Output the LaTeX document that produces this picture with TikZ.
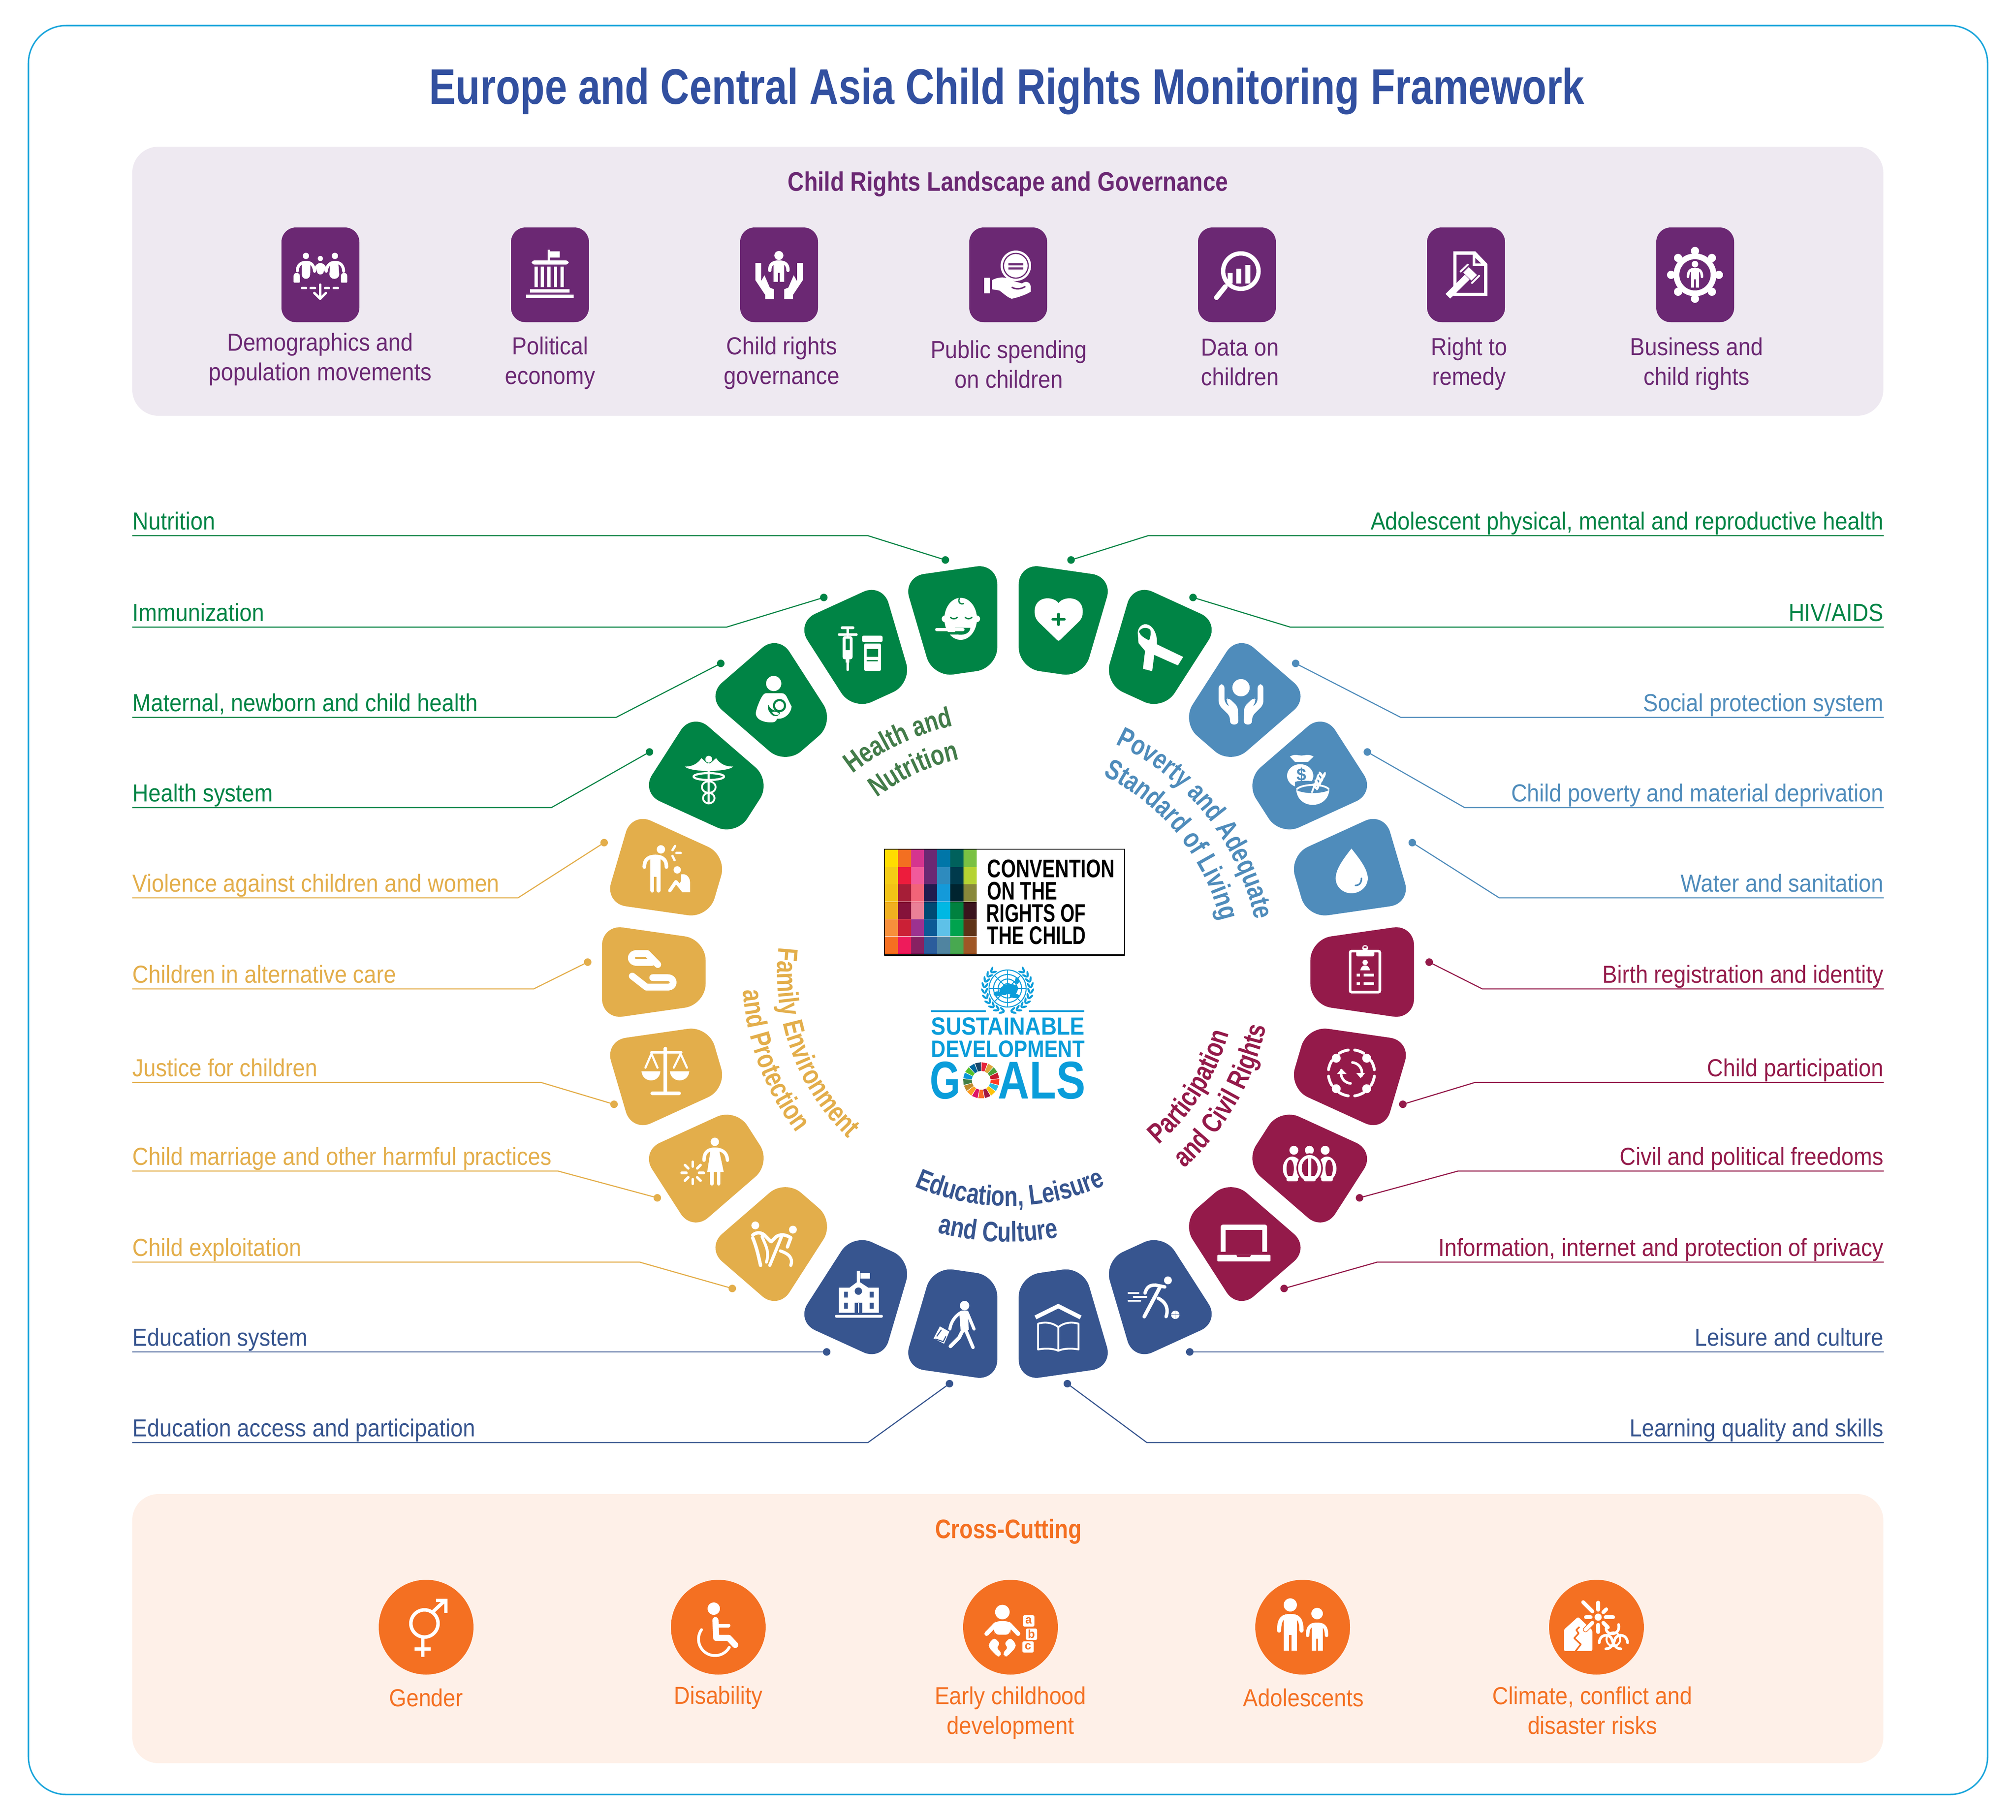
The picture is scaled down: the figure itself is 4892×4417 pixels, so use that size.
\documentclass[tikz,border=0pt]{standalone}
\usepackage{fontspec}
\usepackage{graphicx}
\usetikzlibrary{decorations.text}
\setmainfont[FakeStretch=0.9]{Liberation Sans}
\newfontfamily\arcfam[FakeStretch=0.78]{Liberation Sans}
\newfontfamily\plainfam{Liberation Sans}
\newcommand\arcf{\arcfam\bfseries\fontsize{19.5}{21}\selectfont}
\definecolor{grn}{HTML}{008445}
\definecolor{grnd}{HTML}{437C4A}
\definecolor{blu}{HTML}{4F8CBB}
\definecolor{mar}{HTML}{941A4A}
\definecolor{nav}{HTML}{37558F}
\definecolor{yel}{HTML}{E3AE4B}
\definecolor{pur}{HTML}{6B2873}
\definecolor{org}{HTML}{F47022}
\definecolor{lil}{HTML}{EEE9F1}
\definecolor{pea}{HTML}{FEF0E8}
\definecolor{ttl}{HTML}{3250A0}
\definecolor{frm}{HTML}{1AA5DB}
\definecolor{sdg}{HTML}{0A9DDA}
\tikzset{
 ws/.style={draw=white,line cap=round,line join=round,line width=#1*0.181pt},
 ts/.style={draw=white,line cap=round,line join=round,line width=#1*0.0945pt},
 pxs/.style={draw=white,line cap=round,line join=round,line width=#1*0.2835pt},
 lab/.style={font=\fontsize{17}{20.6}\selectfont,inner sep=0pt,align=center},
 dotn/.style={circle,inner sep=0pt,minimum size=5.2pt,fill=#1},
 leadln/.style={draw=#1,line width=0.75pt},
 cropa/.style={shift={(1450,1350)},scale=0.638},
 cropb/.style={shift={(2450,1350)},scale=0.638},
 cropc/.style={shift={(1450,2350)},scale=0.638},
 cropd/.style={shift={(2450,2350)},scale=0.638},
 ptile/.style={fill=pur,rounded corners=10pt},
 ocirc/.style={fill=org},
}
% leader: name, colour, text, line y, bend x, dot x, dot y
\newcommand\leadL[7]{%
 \coordinate (#1s) at (321,#4);
 \coordinate (#1b) at (#5,#4);
 \node[dotn=#2] (#1d) at (#6,#7) {};
 \node[lab,text=#2,anchor=base west] (#1t) at (321,{#4-15}) {#3};
 \draw[leadln=#2] (#1s) -- (#1b) -- (#1d.center);
}
\newcommand\leadR[7]{%
 \coordinate (#1s) at (4571,#4);
 \coordinate (#1b) at (#5,#4);
 \node[dotn=#2] (#1d) at (#6,#7) {};
 \node[lab,text=#2,anchor=base east] (#1t) at (4571,{#4-15}) {#3};
 \draw[leadln=#2] (#1s) -- (#1b) -- (#1d.center);
}
% person: cx, head y, head r, shoulder y, half width, foot y
\newcommand\psn[6]{%
 \fill[white] (#1,#2) circle (#3);
 \draw[white,line cap=round,line width=#5*0.09pt] ({#1-#5*0.85},{#4+(#6-#4)*0.42}) .. controls ({#1-#5*0.85},{#4+4}) and ({#1-#5*0.5},#4) .. (#1,#4) .. controls ({#1+#5*0.5},#4) and ({#1+#5*0.85},{#4+4}) .. ({#1+#5*0.85},{#4+(#6-#4)*0.42});
 \fill[white] ({#1-#5*0.5},#4) rectangle ({#1+#5*0.5},{#4+(#6-#4)*0.55});
 \fill[white] ({#1-#5*0.5},{#4+(#6-#4)*0.5}) rectangle ({#1-#5*0.08},#6);
 \fill[white] ({#1+#5*0.08},{#4+(#6-#4)*0.5}) rectangle ({#1+#5*0.5},#6);
}
% curved heading: colour, text, centre angle, radius, half span (signed)
\newcommand\arctxt[5]{%
 \path[decorate,decoration={text along path,text align=center,text={|\color{#1}\arcf|#2}}]
   plot[domain={#3-(#5)}:{#3+(#5)},samples=90] ({2446+#4*sin(\x)},{2359-#4*cos(\x)});
}
\begin{document}
\begin{tikzpicture}[x=0.01cm,y=-0.01cm]
\useasboundingbox (0,0) rectangle (4892,4417);
\fill[white] (0,0) rectangle (4892,4417);
\draw[frm,line width=1pt,rounded corners=26pt] (69,62) rectangle (4823,4355);
\node[inner sep=0pt,text=ttl] (title) at (2443,221) {\resizebox{28.02cm}{\height}{\bfseries\fontsize{34.5}{40}\selectfont Europe and Central Asia Child Rights Monitoring Framework}};
% panels
\fill[lil,rounded corners=18pt] (321,356) rectangle (4570,1009);
\fill[pea,rounded corners=18pt] (321,3626) rectangle (4570,4279);
\node[inner sep=0pt,text=pur] (h1) at (2446,447) {\resizebox{10.68cm}{\height}{\bfseries\fontsize{18.5}{22}\selectfont Child Rights Landscape and Governance}};
\node[inner sep=0pt,text=org] (h2) at (2447,3717) {\resizebox{3.55cm}{\height}{\bfseries\fontsize{18.5}{22}\selectfont Cross-Cutting}};
% top tiles
\foreach \cx in {777,1334,1890,2446,3001,3557,4113}
 \fill[ptile] ({\cx-94},552) rectangle ({\cx+95},782);
\node[lab,text=pur] (p1) at (777,872) {Demographics and\\population movements};
\node[lab,text=pur] (p2) at (1335,881) {Political\\economy};
\node[lab,text=pur] (p3) at (1897,881) {Child rights\\governance};
\node[lab,text=pur] (p4) at (2448,884) {Public spending\\on children};
\node[lab,text=pur] (p5) at (3009,879) {Data on\\children};
\node[lab,text=pur] (p6) at (3565,883) {Right to\\remedy};
\node[lab,text=pur] (p7) at (4117,883) {Business and\\child rights};
% top icon 1
\begin{scope}[shift={(660,550)},scale=0.3333]
 \fill[white] (247,213) circle (23) (458,213) circle (23) (352,232) circle (19);
 \draw[ts=22] (185,322) .. controls (185,272) and (220,260) .. (250,260) .. controls (285,260) and (305,280) .. (310,325);
 \fill[white] (217,262) -- (280,262) -- (278,350) .. controls (275,390) and (220,390) .. (217,350) -- cycle;
 \draw[ts=22] (395,325) .. controls (400,275) and (430,260) .. (460,260) .. controls (500,260) and (520,285) .. (522,325);
 \fill[white] (425,262) -- (482,262) -- (490,345) .. controls (490,392) and (418,392) .. (418,345) -- cycle;
 \draw[ts=20] (312,322) .. controls (320,285) and (340,275) .. (352,275) .. controls (365,275) and (385,285) .. (392,322);
 \fill[white] (326,280) -- (378,280) -- (378,320) .. controls (378,358) and (326,358) .. (326,320) -- cycle;
 \fill[white,rounded corners=0.6pt] (157,408) -- (157,365) .. controls (157,330) and (203,330) .. (203,365) -- (203,408) -- cycle;
 \fill[white,rounded corners=0.6pt] (502,408) -- (502,365) .. controls (502,330) and (548,330) .. (548,365) -- (548,408) -- cycle;
 \draw[ts=18] (218,448) -- (248,448) (282,448) -- (313,448) (386,448) -- (415,448) (450,448) -- (480,448);
 \draw[ts=16] (351,422) -- (351,525);
 \draw[ts=18] (308,483) -- (351,525) -- (393,483);
\end{scope}
% top icon 2
\fill[white] (1329,606) rectangle (1334,634) (1334,610) rectangle (1358,625);
\fill[white,rounded corners=2pt] (1290,632) rectangle (1380,642);
\foreach \xx in {1301,1316,1332,1348,1364} \fill[white] ({\xx-4},647) rectangle ({\xx+4},697);
\fill[white] (1286,702) rectangle (1382,710) (1276,715) rectangle (1392,723);
% top icon 3
\psn{1890}{620}{11}{636}{26}{684}
\fill[white] (1833,638)--(1847,638)--(1847,682)--(1855,668)--(1868,698)--(1878,702)--(1878,726)--(1857,726)--(1857,716)--(1833,680)--cycle;
\fill[white] (1948,638)--(1934,638)--(1934,682)--(1926,668)--(1913,698)--(1903,702)--(1903,726)--(1924,726)--(1924,716)--(1948,680)--cycle;
% top icon 4
\fill[white] (2465,645) circle (37);
\draw[pur,line width=0.8pt] (2465,645) circle (30);
\fill[pur] (2447,639) rectangle (2483,644) (2447,649) rectangle (2483,654);
\fill[white] (2388,674) rectangle (2402,712);
\fill[white] (2407,680) .. controls (2425,670) and (2445,672) .. (2460,682) -- (2480,688) .. controls (2490,680) and (2500,685) .. (2501,695) -- (2501,708) .. controls (2490,715) and (2470,722) .. (2455,725) .. controls (2445,722) and (2435,712) .. (2425,705) -- (2407,702) -- cycle;
\draw[pur,line width=1pt] (2455,697) .. controls (2465,703) and (2478,702) .. (2488,695);
% top icon 5
\draw[white,line width=3pt] (3011,658) circle (43);
\fill[white] (2979,662) rectangle (2991,688) (3000,652) rectangle (3012,688) (3022,643) rectangle (3034,688);
\draw[pxs=12] (2973,696) -- (2952,722);
% top icon 6
\begin{scope}[shift={(3440,550)},scale=0.3333]
 \fill[white] (260,180) -- (420,180) -- (508,272) -- (508,505) -- (260,505) -- cycle;
 \fill[pur] (283,205) -- (401,205) -- (401,287) -- (483,287) -- (483,482) -- (283,482) -- cycle;
 \fill[pur] (420,228) -- (420,268) -- (462,268) -- cycle;
 \fill[white] (203,490) -- (237,524) -- (378,385) -- (344,350) -- cycle;
 \fill[white] (332,335) -- (372,295) -- (432,352) -- (392,392) -- cycle;
 \draw[ts=14] (313,327) -- (365,277);
 \draw[ts=14] (396,410) -- (448,358);
\end{scope}
% top icon 7
\foreach \aa in {0,45,...,315} \fill[white] ({4113+58*cos(\aa)},{667+58*sin(\aa)}) circle (10);
\draw[white,line width=4pt] (4113,667) circle (45);
\psn{4113}{641}{8}{653}{20}{698}
% centre: CRC logo
\fill[white] (2146,2061) rectangle (2729,2318);
\foreach \rr/\rowlist in {
 0/{FFDD00,F36F21,D5348F,6B2873,0076A8,00615C,7AC143},
 1/{F4CC15,ED1C3C,F15A9B,6B2873,2E8BBE,003A4C,B5D333},
 2/{F2C316,A61E37,F26478,211C4F,149AD9,00242F,88883A},
 3/{F0B020,85123A,EA8097,004A73,00B8E3,00813F,3A141D},
 4/{F78F3B,CB2036,9C3290,0B5A96,5EC1E8,00A34E,5E3317},
 5/{F56F21,EE1B5B,872162,2B5D9C,5084A0,48A850,9F5726}}{
 \foreach \cc [count=\ii from 0] in \rowlist {
  \definecolor{tmpc}{HTML}{\cc}
  \fill[tmpc] ({2147+31.8*\ii},{2062+42.2*\rr}) rectangle ({2147+31.8*(\ii+1)},{2062+42.2*(\rr+1)-0.6});
 }
}
\draw[black,line width=0.6pt] (2146,2061) rectangle (2729,2318);
\draw[black,line width=1.1pt] (2146,2318) -- (2729,2318);
\node[inner sep=0pt,anchor=west] (crc1) at (2395,2108) {\resizebox{3.09cm}{0.43cm}{\plainfam\bfseries CONVENTION}};
\node[inner sep=0pt,anchor=west] (crc2) at (2395,2162) {\resizebox{1.70cm}{0.43cm}{\plainfam\bfseries ON THE}};
\node[inner sep=0pt,anchor=west] (crc3) at (2393,2216) {\resizebox{2.41cm}{0.43cm}{\plainfam\bfseries RIGHTS OF}};
\node[inner sep=0pt,anchor=west] (crc4) at (2395,2270) {\resizebox{2.39cm}{0.43cm}{\plainfam\bfseries THE CHILD}};
% UN emblem
\begin{scope}[sdg]
\foreach \rd in {45,34,23,12} \draw[line width=0.7pt] (2445,2399) circle (\rd);
\foreach \aa in {0,45,...,315} \draw[line width=0.6pt] (2445,2399) -- ({2445+45*cos(\aa)},{2399+45*sin(\aa)});
\fill (2425,2402) .. controls (2435,2385) and (2460,2385) .. (2470,2395) .. controls (2472,2412) and (2455,2420) .. (2445,2410) .. controls (2440,2420) and (2425,2415) .. (2425,2402) -- cycle;
\fill (2420,2412) ellipse (9 and 6) (2462,2417) ellipse (12 and 5) (2468,2380) ellipse (5 and 8);
\foreach \aa in {14,28,...,140} {
 \fill[rotate around={\aa+28:({2445+52*sin(\aa)},{2399+52*cos(\aa)})}] ({2445+52*sin(\aa)},{2399+52*cos(\aa)}) ellipse (7.5 and 2.6);
 \fill[rotate around={-\aa-28:({2445-52*sin(\aa)},{2399+52*cos(\aa)})}] ({2445-52*sin(\aa)},{2399+52*cos(\aa)}) ellipse (7.5 and 2.6);
 \fill[rotate around={\aa-28:({2445+60*sin(\aa)},{2399+60*cos(\aa)})}] ({2445+60*sin(\aa)},{2399+60*cos(\aa)}) ellipse (7.5 and 2.6);
 \fill[rotate around={-\aa+28:({2445-60*sin(\aa)},{2399+60*cos(\aa)})}] ({2445-60*sin(\aa)},{2399+60*cos(\aa)}) ellipse (7.5 and 2.6);
}
\fill (2259,2452) rectangle (2392,2456) (2497,2452) rectangle (2631,2456);
\end{scope}
\node[inner sep=0pt,text=sdg,anchor=west] (sd1) at (2259,2491) {\resizebox{3.72cm}{0.42cm}{\plainfam\bfseries SUSTAINABLE}};
\node[inner sep=0pt,text=sdg,anchor=west] (sd2) at (2259,2546) {\resizebox{3.72cm}{0.40cm}{\plainfam\bfseries DEVELOPMENT}};
\node[inner sep=0pt,text=sdg,anchor=west] (sd3) at (2256,2622) {\resizebox{0.74cm}{0.90cm}{\plainfam\bfseries G}};
\node[inner sep=0pt,text=sdg,anchor=west] (sd4) at (2421,2622) {\resizebox{2.12cm}{0.90cm}{\plainfam\bfseries ALS}};
\foreach \cc [count=\ii from 0] in {E5243B,DDA63A,4C9F38,C5192D,FF3A21,26BDE2,FCC30B,A21942,FD6925,DD1367,FD9D24,BF8B2E,3F7E44,0A97D9,56C02B,00689D,19486A}{
 \definecolor{tmpc}{HTML}{\cc}
 \pgfmathsetmacro\aA{\ii*21.176+1.3}
 \pgfmathsetmacro\aB{(\ii+1)*21.176-1.3}
 \fill[tmpc] ({2381+44*sin(\aA)},{2622-44*cos(\aA)}) -- ({2381+44*sin(\aB)},{2622-44*cos(\aB)}) -- ({2381+23*sin(\aB)},{2622-23*cos(\aB)}) -- ({2381+23*sin(\aA)},{2622-23*cos(\aA)}) -- cycle;
}
% ring tiles
\foreach \kk/\tc in {0/grn,1/grn,2/blu,3/blu,4/blu,5/mar,6/mar,7/mar,8/mar,9/nav,10/nav,11/nav,12/nav,13/yel,14/yel,15/yel,16/yel,17/yel,18/grn,19/grn,20/grn,21/grn}{
 \pgfmathsetmacro\th{8.1818+16.3636*\kk}
 \fill[\tc,rounded corners=14.5pt]
  ({2446+992*sin(\th-6.68)},{2359-992*cos(\th-6.68)}) --
  ({2446+992*sin(\th+6.68)},{2359-992*cos(\th+6.68)}) --
  ({2446+738*sin(\th+6.17)},{2359-738*cos(\th+6.17)}) --
  ({2446+738*sin(\th-6.17)},{2359-738*cos(\th-6.17)}) -- cycle;
}
% curved headings
\arctxt{grnd}{Health and}{-25.3}{612}{60}
\arctxt{grnd}{Nutrition}{-24.9}{530}{60}
\arctxt{blu}{Poverty and Adequate}{51.6}{612}{70}
\arctxt{blu}{Standard of Living}{51.2}{530}{70}
\arctxt{mar}{Participation}{122.2}{556}{-55}
\arctxt{mar}{and Civil Rights}{120}{640}{-55}
\arctxt{nav}{Education, Leisure}{179.5}{568}{-60}
\arctxt{nav}{and Culture}{182.2}{655}{-50}
\arctxt{yel}{Family Environment}{250}{560}{-65}
\arctxt{yel}{and Protection}{249.4}{645}{-55}
% leaders left
\leadL{a}{grn}{Nutrition}{1300}{2106}{2294}{1359}
\leadL{b}{grn}{Immunization}{1522}{1763}{1999}{1450}
\leadL{c}{grn}{Maternal, newborn and child health}{1741}{1495}{1749}{1610}
\leadL{d}{grn}{Health system}{1960}{1338}{1576}{1825}
\leadL{e}{yel}{Violence against children and women}{2179}{1257}{1466}{2045}
\leadL{f}{yel}{Children in alternative care}{2400}{1295}{1426}{2335}
\leadL{g}{yel}{Justice for children}{2627}{1313}{1490}{2680}
\leadL{h}{yel}{Child marriage and other harmful practices}{2842}{1354}{1595}{2907}
\leadL{i}{yel}{Child exploitation}{3063}{1552}{1777}{3127}
\leadL{j}{nav}{Education system}{3281}{2006}{2006}{3281}
\leadL{k}{nav}{Education access and participation}{3501}{2106}{2304}{3358}
% leaders right
\leadR{l}{grn}{Adolescent physical, mental and reproductive health}{1300}{2786}{2599}{1359}
\leadR{m}{grn}{HIV/AIDS}{1522}{3131}{2895}{1450}
\leadR{n}{blu}{Social protection system}{1741}{3399}{3144}{1610}
\leadR{o}{blu}{Child poverty and material deprivation}{1960}{3554}{3318}{1825}
\leadR{p}{blu}{Water and sanitation}{2179}{3638}{3427}{2045}
\leadR{q}{mar}{Birth registration and identity}{2400}{3597}{3468}{2335}
\leadR{r}{mar}{Child participation}{2627}{3579}{3404}{2680}
\leadR{s}{mar}{Civil and political freedoms}{2842}{3538}{3299}{2907}
\leadR{u}{mar}{Information, internet and protection of privacy}{3063}{3342}{3116}{3127}
\leadR{v}{nav}{Leisure and culture}{3281}{2887}{2887}{3281}
\leadR{w}{nav}{Learning quality and skills}{3501}{2783}{2590}{3358}
% icons: crop A
\begin{scope}[cropa]
 % baby
 \fill[white] (1381,238) ellipse (62 and 80);
 \fill[white] (1322,238) circle (13) (1442,238) circle (13);
 \draw[grn,line width=0.9pt,line cap=round] (1342,232) .. controls (1348,240) and (1362,240) .. (1368,232);
 \draw[grn,line width=0.9pt,line cap=round] (1398,232) .. controls (1404,240) and (1418,240) .. (1424,232);
 \draw[grn,line width=0.9pt,line cap=round] (1376,160) .. controls (1370,175) and (1380,185) .. (1392,180);
 \fill[grn] (1270,262) rectangle (1322,300);
 \fill[grn] (1360,272) -- (1418,272) .. controls (1415,300) and (1380,302) .. (1360,295) -- cycle;
 \fill[grn] (1322,288) rectangle (1368,298);
 \draw[ws=12] (1290,279) -- (1390,279);
 % syringe
 \draw[ws=10] (930,272) -- (972,272);
 \draw[ws=9] (951,272) -- (951,300);
 \draw[ws=9] (918,298) -- (985,298);
 \fill[white,rounded corners=1.5pt] (932,304) rectangle (970,392);
 \fill[grn] (944,314) rectangle (959,358);
 \draw[white,line width=2.6pt] (951,390) -- (951,404);
 \draw[ws=9] (951,404) -- (951,432);
 % bottle
 \fill[white,rounded corners=1pt] (1006,302) rectangle (1084,326);
 \fill[white,rounded corners=1pt] (1014,332) rectangle (1078,436);
 \fill[grn] (1024,352) rectangle (1068,382);
 \fill[grn] (1024,395) rectangle (1066,400);
 % mother
 \fill[white] (670,484) circle (29);
 \fill[white] (640,521) -- (700,521) .. controls (712,521) and (718,530) .. (722,540) -- (738,572) .. controls (735,600) and (710,618) .. (690,618) -- (682,618) .. controls (680,630) and (670,632) .. (660,632) .. controls (630,632) and (600,620) .. (602,595) .. controls (605,575) and (620,540) .. (628,530) .. controls (632,524) and (636,521) .. (640,521) -- cycle;
 \fill[grn] (692,568) circle (25);
 \fill[white] (692,568) circle (17);
 \fill[grn] (650,565) .. controls (660,590) and (680,585) .. (695,595) .. controls (690,610) and (670,612) .. (660,600) .. controls (650,590) and (645,575) .. (650,565) -- cycle;
 \fill[white] (664,592) .. controls (675,590) and (685,592) .. (692,600) .. controls (685,606) and (670,606) .. (664,592) -- cycle;
 % caduceus
 \draw[ws=8] (423,790) -- (423,940);
 \fill[white] (423,772) circle (13);
 \fill[white] (423,790) .. controls (410,785) and (405,775) .. (395,768) .. controls (380,790) and (360,800) .. (332,800) .. controls (345,812) and (380,815) .. (423,818) -- cycle;
 \fill[white] (423,790) .. controls (436,785) and (441,775) .. (451,768) .. controls (466,790) and (486,800) .. (516,800) .. controls (503,812) and (466,815) .. (423,818) -- cycle;
 \draw[ws=8] (423,838) ellipse (58 and 13);
 \draw[ws=7] (423,878) ellipse (26 and 22);
 \draw[ws=7] (423,920) ellipse (22 and 20);
 % violence
 \fill[white] (241,1115) circle (16);
 \draw[ws=14] (178,1182) .. controls (178,1148) and (200,1142) .. (220,1142) .. controls (240,1142) and (262,1148) .. (262,1182);
 \fill[white] (200,1140) rectangle (240,1220);
 \draw[ws=15] (208,1215) -- (208,1272);
 \draw[ws=15] (232,1215) -- (232,1272);
 \draw[ws=9] (295,1102) -- (285,1118);
 \draw[ws=9] (300,1129) -- (316,1129);
 \draw[ws=9] (285,1140) -- (293,1156);
 \fill[white] (303,1193) circle (14);
 \draw[ws=13] (275,1272) -- (298,1238) -- (325,1270);
 \fill[white] (318,1210) .. controls (340,1205) and (352,1225) .. (352,1240) -- (352,1278) -- (322,1278) -- (305,1255) -- (318,1235) -- cycle;
 % link
 \draw[ws=26,fill=none] (229,1553) -- (188,1511) -- (150,1511) .. controls (121,1511) and (121,1545) .. (150,1545) -- (206,1545);
 \draw[ws=26,fill=none] (132,1597) -- (186,1639) -- (266,1639) .. controls (295,1639) and (295,1603) .. (266,1603) -- (210,1603);
\end{scope}
% icons: crop B
\begin{scope}[cropb]
 % heart
 \fill[white] (186,178) .. controls (165,150) and (95,150) .. (95,210) .. controls (95,235) and (105,245) .. (115,255) -- (180,318) .. controls (184,322) and (188,322) .. (192,318) -- (262,250) .. controls (272,240) and (278,230) .. (278,210) .. controls (278,150) and (205,150) .. (186,178) -- cycle;
 \draw[grn,line width=1.9pt,line cap=round] (186,220) -- (186,260) (164,240) -- (208,240);
 % ribbon
 \fill[white] (487,290) .. controls (490,262) and (515,250) .. (535,265) .. controls (555,280) and (562,310) .. (560,335) -- (660,383) -- (640,415) -- (612,403) -- (550,375) -- (542,437) -- (507,428) -- (515,360) -- (490,330) -- cycle;
 \fill[grn] (492,285) .. controls (505,268) and (525,270) .. (535,280) .. controls (538,295) and (535,310) .. (530,320) .. controls (515,312) and (495,302) .. (492,285) -- cycle;
 % hands
 \fill[white] (880,500) circle (33);
 \foreach \mm in {0,1}{
 \begin{scope}[shift={(1760*\mm,0)},xscale={1-2*\mm}]
 \fill[white,rounded corners=2.5pt] (795,487)--(817,487)--(817,556)--(838,575)--(822,548)--(831,537)--(868,572)--(870,640)--(838,640)--(838,608)--(795,565)--cycle;
 \end{scope}}
 % bag and bowl
 \fill[white] (1105,835) ellipse (50 and 44);
 \fill[white] (1066,762) .. controls (1085,750) and (1095,758) .. (1110,758) .. controls (1125,758) and (1135,750) .. (1156,762) -- (1135,782) -- (1085,782) -- cycle;
 \node[inner sep=0pt,text=blu] (dollar) at (1110,832) {\plainfam\bfseries\fontsize{12}{12}\selectfont\$};
 \fill[blu] (1085,860) .. controls (1085,850) and (1220,850) .. (1225,885) -- (1225,960) -- (1085,960) -- cycle;
 \fill[white] (1090,888) .. controls (1095,965) and (1210,965) .. (1216,888) .. controls (1195,905) and (1110,905) .. (1090,888) -- cycle;
 \draw[ws=7] (1093,885) .. controls (1115,865) and (1195,865) .. (1213,885);
 \draw[ws=7] (1150,897) -- (1175,830);
 \foreach \yy/\xx in {0/0,1/1,2/2,3/3}{
  \fill[white,rotate around={-55:({1160+8*\xx},{875-15*\yy})}] ({1160+8*\xx},{875-15*\yy}) ellipse (13 and 5);
  \fill[white,rotate around={-110:({1172+8*\xx},{878-15*\yy})}] ({1172+8*\xx},{878-15*\yy}) ellipse (13 and 5);
 }
 % drop
 \fill[white] (1300,1112) .. controls (1270,1150) and (1240,1190) .. (1240,1225) .. controls (1240,1258) and (1268,1282) .. (1300,1282) .. controls (1332,1282) and (1362,1258) .. (1362,1225) .. controls (1362,1190) and (1330,1150) .. (1300,1112) -- cycle;
 \draw[blu,line width=1.1pt,line cap=round] (1315,1252) .. controls (1330,1252) and (1338,1242) .. (1338,1225);
 % clipboard
 \draw[white,line width=1.8pt,rounded corners=1pt] (1295,1502) rectangle (1408,1658);
 \fill[white] (1352,1490) circle (11);
 \fill[white,rounded corners=1pt] (1318,1497) rectangle (1387,1522);
 \fill[mar] (1346,1484) rectangle (1358,1491);
 \fill[white] (1352,1545) circle (10);
 \fill[white] (1334,1575) .. controls (1336,1550) and (1368,1550) .. (1370,1575) -- cycle;
 \draw[white,line width=1.8pt] (1320,1593) -- (1333,1593) (1346,1593) -- (1386,1593) (1320,1625) -- (1333,1625) (1346,1625) -- (1386,1625);
\end{scope}
% icons: crop C
\begin{scope}[cropc]
 % scales
 \draw[ws=10] (205,320) -- (318,320);
 \draw[ws=13] (258,305) -- (258,472);
 \draw[ws=14] (208,475) -- (310,475);
 \draw[ws=8] (182,378) -- (205,325) -- (228,378);
 \draw[ws=8] (290,378) -- (316,325) -- (340,378);
 \fill[white] (167,392) .. controls (172,438) and (235,438) .. (239,392) -- cycle;
 \fill[white] (275,392) .. controls (280,438) and (344,438) .. (349,392) -- cycle;
 % woman and burst
 \fill[white] (446,660) circle (16);
 \draw[ws=13] (405,730) .. controls (405,695) and (425,688) .. (446,688) .. controls (467,688) and (492,695) .. (494,730);
 \fill[white] (430,690) -- (462,690) -- (480,775) -- (417,775) -- cycle;
 \draw[ws=13] (435,775) -- (435,820);
 \draw[ws=13] (461,775) -- (461,820);
 \foreach \aa in {0,45,...,315}
  \draw[ws=10] ({362+24*cos(\aa)},{778+24*sin(\aa)}) -- ({362+42*cos(\aa)},{778+42*sin(\aa)});
 % exploitation
 \fill[white] (600,978) circle (15) (743,994) circle (15);
 \draw[ws=13] (590,1015) .. controls (605,1002) and (625,1003) .. (640,1020) -- (660,1040) -- (678,1022) .. controls (695,1010) and (715,1012) .. (735,1025) -- (722,1060);
 \draw[ws=13] (590,1025) .. controls (605,1060) and (612,1095) .. (620,1130);
 \draw[ws=11] (625,1020) .. controls (640,1055) and (655,1080) .. (642,1118);
 \draw[ws=12] (700,1020) -- (655,1130);
 \draw[ws=12] (695,1075) .. controls (725,1085) and (745,1100) .. (735,1130);
 % school
 \draw[white,line width=2.1pt] (992,1150) -- (992,1198);
 \fill[white] (1000,1158) rectangle (1036,1180);
 \fill[white] (918,1215) -- (958,1215) -- (992,1190) -- (1030,1215) -- (1070,1215) -- (1070,1310) -- (918,1310) -- cycle;
 \fill[nav] (992,1228) circle (14);
 \fill[nav] (938,1230) rectangle (952,1252) (1035,1230) rectangle (1050,1252) (938,1272) rectangle (952,1295) (1035,1272) rectangle (1050,1295) (978,1272) rectangle (1007,1310);
 \fill[white] (990,1272) rectangle (995,1310);
 \draw[ws=11] (908,1323) -- (1080,1323);
 % walker
 \fill[white] (1396,1283) circle (18);
 \draw[ws=12] (1340,1372) .. controls (1345,1340) and (1365,1318) .. (1385,1308) -- (1405,1308) -- (1432,1372);
 \fill[white] (1376,1312) -- (1408,1310) -- (1412,1375) -- (1382,1392) -- cycle;
 \draw[ws=14] (1385,1385) -- (1375,1405) -- (1342,1438);
 \draw[ws=13] (1402,1380) -- (1428,1442);
 \fill[white] (1278,1408) -- (1302,1362) -- (1338,1382) -- (1318,1428) -- cycle;
 \draw[nav,line width=0.7pt] (1290,1400) -- (1308,1375) (1285,1410) -- (1315,1420) -- (1325,1400);
\end{scope}
% icons: crop D
\begin{scope}[cropd]
 % book
 \draw[white,line width=2.9pt] (98,1328) -- (185,1285) -- (270,1328);
 \draw[white,line width=1.3pt,line join=round] (185,1365) .. controls (160,1345) and (130,1345) .. (108,1352) -- (108,1450) .. controls (130,1445) and (165,1445) .. (185,1455) .. controls (205,1445) and (240,1445) .. (262,1450) -- (262,1352) .. controls (240,1345) and (210,1345) .. (185,1365) -- cycle (185,1365) -- (185,1455);
 % leisure
 \fill[white] (602,1187) circle (15);
 \draw[ws=13] (515,1235) .. controls (522,1210) and (535,1205) .. (555,1205) -- (590,1212);
 \draw[ws=14] (572,1212) -- (512,1325);
 \draw[ws=13] (565,1255) .. controls (595,1270) and (605,1295) .. (595,1325);
 \draw[ws=7] (452,1235) -- (490,1235) (472,1250) -- (520,1250) (452,1265) -- (497,1265);
 \fill[white] (630,1318) circle (16);
 \draw[nav,line width=0.3pt] (630,1302) -- (630,1334) (614,1318) -- (646,1318);
 % laptop
 \draw[white,line width=3.6pt,line join=round] (812,1078) -- (812,985) -- (970,985) -- (970,1078);
 \fill[white,rounded corners=0.6pt] (790,1090) rectangle (992,1115);
 \fill[mar] (862,1090) -- (918,1090) -- (914,1098) -- (866,1098) -- cycle;
 % group
 \fill[white] (1081,692) circle (17) (1140,692) circle (17) (1200,692) circle (17);
 \foreach \xx/\dd in {1075/1,1207/-1}{
  \fill[white] (\xx,762) ellipse (36 and 46);
  \fill[mar] ({\xx-8*\dd},762) ellipse (14 and 34);
  \fill[white,rounded corners=1pt] ({\xx-22},790) rectangle ({\xx+22},810);
 }
 \fill[mar] (1141,760) ellipse (50 and 56);
 \fill[white] (1141,760) ellipse (44 and 50);
 \fill[mar] (1141,760) ellipse (30 and 38);
 \fill[white] (1134,722) rectangle (1148,800);
 \fill[white,rounded corners=1pt] (1118,790) rectangle (1164,810);
 % participation
 \fill[white] (1242,342) circle (17) (1358,342) circle (17) (1242,458) circle (17) (1358,458) circle (17);
 \foreach \qq in {0,90,180,270}{
  \draw[ws=11] plot[domain={238+\qq}:{262+\qq},samples=7] ({1300+88*cos(\x)},{398+88*sin(\x)});
  \draw[ws=11] plot[domain={278+\qq}:{302+\qq},samples=7] ({1300+88*cos(\x)},{398+88*sin(\x)});
 }
 \draw[ws=10] plot[domain=-85:15,samples=12] ({1300+40*cos(\x)},{398+40*sin(\x)});
 \draw[ws=10] plot[domain=95:195,samples=12] ({1300+40*cos(\x)},{398+40*sin(\x)});
 \fill[white] (1318,398) -- (1352,398) -- (1335,418) -- cycle;
 \fill[white] (1245,402) -- (1282,402) -- (1262,382) -- cycle;
\end{scope}
% bottom circles
\foreach \cx in {1034,1743,2452,3161,3874} \fill[ocirc] (\cx,3949) circle (115);
\node[lab,text=org] (g1) at (1034,4120) {Gender};
\node[lab,text=org] (g2) at (1743,4120) {Disability};
\node[lab,text=org] (g3) at (2452,4157) {Early childhood\\development};
\node[lab,text=org] (g4) at (3163,4120) {Adolescents};
\node[lab,text=org] (g5) at (3864,4151) {Climate, conflict and\\disaster risks};
% gender
\draw[white,line width=2.4pt] (1030,3940) circle (33);
\draw[white,line width=2.4pt] (1026,3973) -- (1026,4021) (1006,4002) -- (1045,4002);
\draw[white,line width=2.4pt] (1050,3912) -- (1080,3884);
\draw[white,line width=2.4pt,line join=miter] (1058,3884) -- (1082,3884) -- (1082,3915);
% wheelchair
\fill[white] (1732,3904) circle (15);
\draw[pxs=15] (1736,3932) -- (1738,3975) -- (1768,3975) -- (1784,3992);
\draw[pxs=9] (1738,3945) -- (1768,3945);
\draw[pxs=7] plot[domain=30:215,samples=24] ({1735+40*cos(\x)},{3978+40*sin(\x)});
% early childhood
\begin{scope}[shift={(2320,3810)},scale=0.3333]
 \fill[white] (337,307) circle (53);
 \draw[ts=32] (222,465) -- (285,400);
 \draw[ts=32] (452,465) -- (390,400);
 \fill[white,rounded corners=3pt] (265,395) -- (295,372) -- (380,372) -- (410,395) -- (394,440) -- (393,472) -- (280,472) -- (279,440) -- cycle;
 \fill[white,rounded corners=2pt] (278,493) -- (322,537) -- (293,566) -- (332,604) -- (318,632) -- (300,630) -- (238,565) -- (238,535) -- cycle;
 \fill[white,rounded corners=2pt] (394,493) -- (350,537) -- (379,566) -- (340,604) -- (354,632) -- (372,630) -- (434,565) -- (434,535) -- cycle;
 \fill[white,rounded corners=1pt] (488,330) rectangle (570,413) (508,427) rectangle (590,510) (483,520) rectangle (565,602);
 \node[inner sep=0pt,text=org] (la) at (528,368) {\plainfam\bfseries\fontsize{8}{8}\selectfont a};
 \node[inner sep=0pt,text=org] (lb) at (548,465) {\plainfam\bfseries\fontsize{8}{8}\selectfont b};
 \node[inner sep=0pt,text=org] (lc) at (523,558) {\plainfam\bfseries\fontsize{8}{8}\selectfont c};
\end{scope}
% adolescents
\psn{3131}{3895}{16}{3922}{32}{4006}
\psn{3196}{3916}{14}{3942}{27}{4006}
% climate
\begin{scope}[shift={(3740,3810)},scale=0.3333]
 \fill[white,rounded corners=1pt] (165,435) -- (268,342) -- (372,440) -- (372,590) -- (165,590) -- cycle;
 \draw[org,line width=1.1pt,line join=round] (278,415) -- (255,437) -- (272,462) -- (240,497) -- (288,542) -- (248,594);
 \fill[white] (414,344) circle (26);
 \draw[ts=28] (305,235) -- (372,302);
 \draw[ts=28] (414,238) -- (414,290);
 \draw[ts=28] (473,287) -- (452,308);
 \draw[ts=28] (325,344) -- (360,344);
 \draw[ts=28] (468,344) -- (523,344);
 \draw[org,line width=3.5pt,line cap=round] (372,385) -- (322,435);
 \draw[ts=28] (372,385) -- (322,435);
 \draw[ts=28] (414,400) -- (414,452);
 \draw[ts=28] (452,385) -- (485,418);
 \draw[ts=20] (472,425) .. controls (470,482) and (580,482) .. (563,398);
 \draw[ts=20] (422,530) .. controls (425,470) and (490,460) .. (512,500) .. controls (525,545) and (545,575) .. (580,575);
 \draw[ts=20] (628,530) .. controls (625,470) and (560,460) .. (538,500) .. controls (525,545) and (505,575) .. (470,575);
 \draw[ts=14] (525,505) circle (50);
\end{scope}
\end{tikzpicture}
\end{document}
